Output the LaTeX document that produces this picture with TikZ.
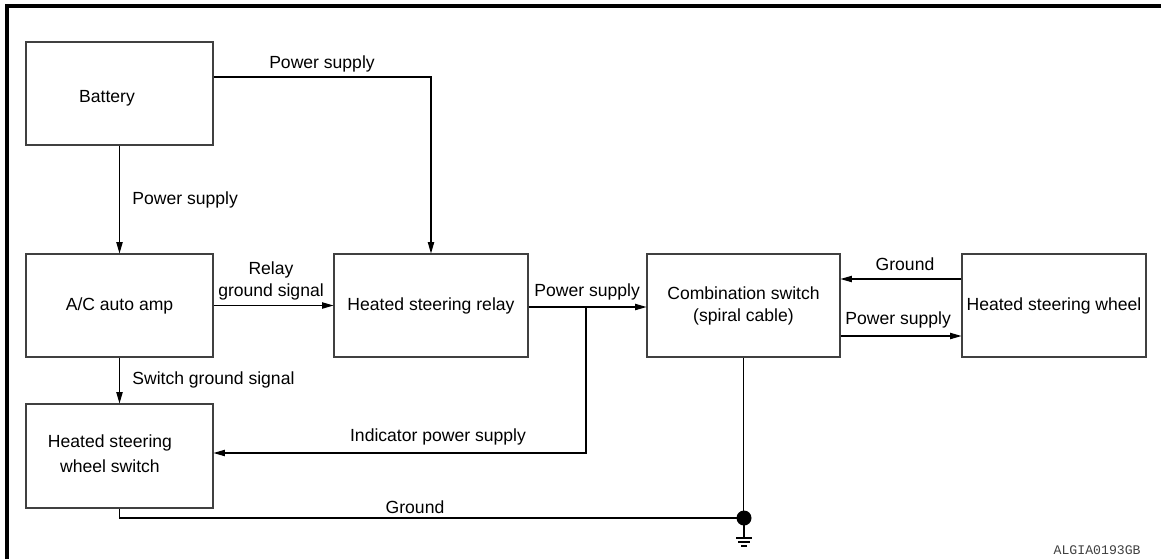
\documentclass[tikz,border=0pt]{standalone}
\usepackage{fontspec}
\setmainfont{Liberation Sans}
\newfontfamily\monof{Liberation Mono}
\usetikzlibrary{arrows.meta}
\begin{document}
\begin{tikzpicture}[x=0.02cm,y=-0.02cm,
  box/.style={draw=black!75,line width=0.6pt,inner sep=0pt,align=center,font=\fontsize{10}{12.5}\selectfont},
  conn/.style={draw=black,line width=0.6pt},
  arr/.style={conn,-{Triangle[length=6.5pt,width=3.6pt]}},
  lbl/.style={inner sep=0pt,font=\fontsize{10}{12.5}\selectfont,align=center}]
\useasboundingbox (0,0) rectangle (1161,559);
\draw[line width=1.8pt] (7,559) -- (7,6) -- (1161,6);
% boxes
\node[box,minimum width=3.74cm,minimum height=2.06cm] (bat) at (119.5,93.5) {};
\node[lbl] (batt) at (107,98) {Battery};
\node[box,minimum width=3.74cm,minimum height=2.06cm] (ac) at (119.5,305.5) {A/C auto amp};
\node[box,minimum width=3.74cm,minimum height=2.08cm] (sw) at (119.5,456) {};
\node[lbl,font=\fontsize{10}{14}\selectfont] (swt) at (110,454) {Heated steering\\wheel switch};
\node[box,minimum width=3.88cm,minimum height=2.06cm] (relay) at (431,305.5) {Heated steering relay};
\node[box,minimum width=3.86cm,minimum height=2.06cm] (comb) at (743.5,305.5) {Combination switch\\(spiral cable)};
\node[box,minimum width=3.68cm,minimum height=2.06cm] (wheel) at (1054,305.5) {Heated steering wheel};
% connectors
\draw[arr] (bat.south) -- (ac.north);
\draw[arr] (bat.east |- 0,77) -| (relay.north);
\draw[arr] (ac.east) -- (relay.west);
\draw[arr] (ac.south) -- (sw.north);
\draw[arr] (relay.east |- 0,307) -- (comb.west |- 0,307);
\coordinate (br) at (586,307);
\draw[arr] (br) |- (sw.east |- 0,453);
\draw[arr] (wheel.west |- 0,279) -- (comb.east |- 0,279);
\draw[arr] (comb.east |- 0,336) -- (wheel.west |- 0,336);
\coordinate (gnd) at (744,518);
\draw[conn] (comb.south) -- (comb.south |- gnd);
\draw[conn] (sw.south) |- (gnd);
\fill (gnd) circle[radius=0.15cm];
\coordinate (ge) at (744,538);
\draw[conn] (gnd) -- (ge);
\draw[conn] (736,538) -- (752,538);
\draw[conn] (738,542) -- (750,542);
\draw[conn] (741,546) -- (747,546);
% labels
\node[lbl] (l1) at (322,64) {Power supply};
\node[lbl,anchor=west] (l2) at (132,200) {Power supply};
\node[lbl] (l3) at (271,281) {Relay\\ground signal};
\node[lbl,anchor=west] (l4) at (132,380) {Switch ground signal};
\node[lbl,anchor=west] (l5) at (534,292) {Power supply};
\node[lbl] (l6) at (438,437) {Indicator power supply};
\node[lbl] (l7) at (905,264) {Ground};
\node[lbl,anchor=west] (l8) at (845,320) {Power supply};
\node[lbl] (l9) at (415,507) {Ground};
\node[inner sep=0pt,anchor=east,font=\monof\fontsize{7.5}{9}\selectfont,text=black!75] (code) at (1141,550) {ALGIA0193GB};
\end{tikzpicture}
\end{document}
